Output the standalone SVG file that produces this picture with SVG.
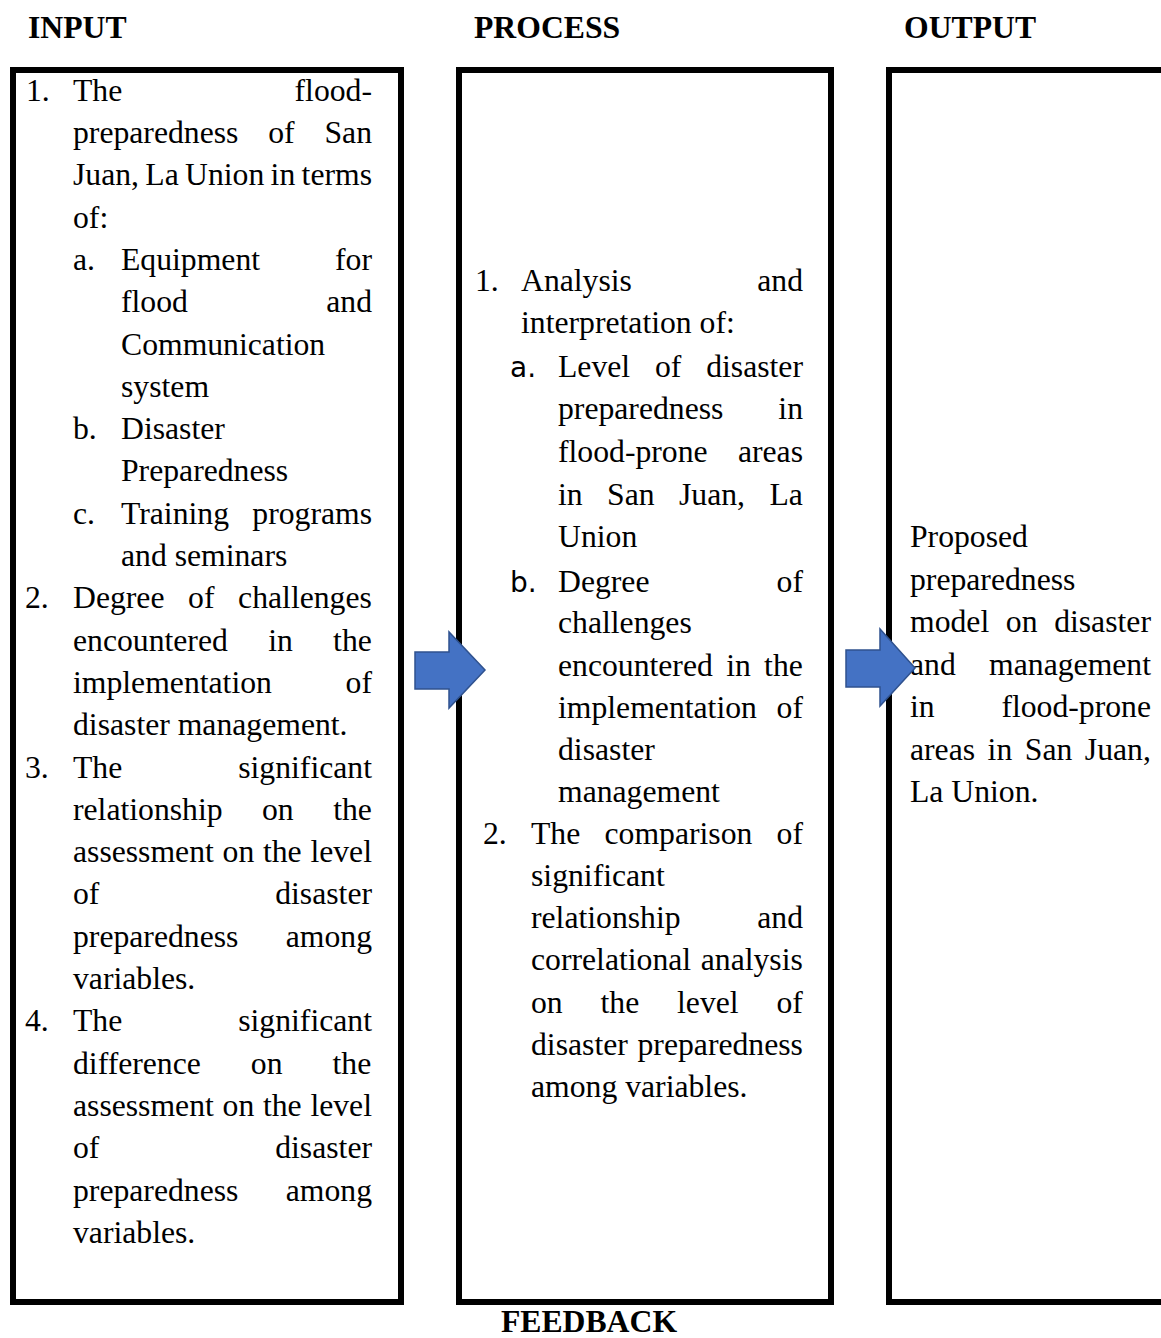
<svg xmlns="http://www.w3.org/2000/svg" width="1161" height="1338" viewBox="0 0 1161 1338">
<style>
.t{font-family:"Liberation Serif","Times New Roman",serif;font-size:31.7px;fill:#000}
.h{font-family:"Liberation Serif","Times New Roman",serif;font-size:31.7px;font-weight:bold;fill:#000}
.e{text-anchor:end}
.s{font-family:"DejaVu Sans","Noto Sans",sans-serif;font-size:28px;fill:#000}
.box{fill:#fff;stroke:#000;stroke-width:6}
.arrow{fill:#4472C4;stroke:#2F528F;stroke-width:1.5;stroke-linejoin:miter}
</style>
<rect width="1161" height="1338" fill="#fff"/>
<g id="headers">
<text class="h" x="28" y="38">INPUT</text>
<text class="h" x="474" y="38">PROCESS</text>
<text class="h" x="904" y="38">OUTPUT</text>
<text class="h" x="589" y="1332" text-anchor="middle">FEEDBACK</text>
</g>
<g id="input">
<rect class="box" x="13" y="70" width="388" height="1232"/>
<text class="t" x="26" y="100.7">1.</text>
<text class="t" x="73" y="100.7">The</text>
<text class="t e" x="372" y="100.7">flood-</text>
<text class="t" x="73" y="143" word-spacing="21.9">preparedness of San</text>
<text class="t" x="73" y="185.3" word-spacing="-1.6">Juan, La Union in terms</text>
<text class="t" x="73" y="227.6">of:</text>
<text class="t" x="73" y="269.9">a.</text>
<text class="t" x="121" y="269.9">Equipment</text>
<text class="t e" x="372" y="269.9">for</text>
<text class="t" x="121" y="312.2">flood</text>
<text class="t e" x="372" y="312.2">and</text>
<text class="t" x="121" y="354.5">Communication</text>
<text class="t" x="121" y="396.8">system</text>
<text class="t" x="73" y="439.1">b.</text>
<text class="t" x="121" y="439.1">Disaster</text>
<text class="t" x="121" y="481.4">Preparedness</text>
<text class="t" x="73" y="523.7">c.</text>
<text class="t" x="121" y="523.7">Training</text>
<text class="t e" x="372" y="523.7">programs</text>
<text class="t" x="121" y="566">and seminars</text>
<text class="t" x="25" y="608.3">2.</text>
<text class="t" x="73" y="608.3" word-spacing="15.7">Degree of challenges</text>
<text class="t" x="73" y="650.6" word-spacing="32.4">encountered in the</text>
<text class="t" x="73" y="692.9">implementation</text>
<text class="t e" x="372" y="692.9">of</text>
<text class="t" x="73" y="735.2">disaster management.</text>
<text class="t" x="25" y="777.5">3.</text>
<text class="t" x="73" y="777.5">The</text>
<text class="t e" x="372" y="777.5">significant</text>
<text class="t" x="73" y="819.8" word-spacing="31.5">relationship on the</text>
<text class="t" x="73" y="862.1" word-spacing="0.8">assessment on the level</text>
<text class="t" x="73" y="904.4">of</text>
<text class="t e" x="372" y="904.4">disaster</text>
<text class="t" x="73" y="946.7">preparedness</text>
<text class="t e" x="372" y="946.7">among</text>
<text class="t" x="73" y="989">variables.</text>
<text class="t" x="25" y="1031.3">4.</text>
<text class="t" x="73" y="1031.3">The</text>
<text class="t e" x="372" y="1031.3">significant</text>
<text class="t" x="73" y="1073.6" word-spacing="42.1">difference on the</text>
<text class="t" x="73" y="1115.9" word-spacing="0.8">assessment on the level</text>
<text class="t" x="73" y="1158.2">of</text>
<text class="t e" x="372" y="1158.2">disaster</text>
<text class="t" x="73" y="1200.5">preparedness</text>
<text class="t e" x="372" y="1200.5">among</text>
<text class="t" x="73" y="1242.8">variables.</text>
</g>
<g id="process">
<rect class="box" x="459" y="70" width="372" height="1232"/>
<text class="t" x="475" y="291">1.</text>
<text class="t" x="521" y="291">Analysis</text>
<text class="t e" x="803" y="291">and</text>
<text class="t" x="521" y="333">interpretation of:</text>
<text class="s" x="510" y="377">a.</text>
<text class="t" x="558" y="377" word-spacing="16.9">Level of disaster</text>
<text class="t" x="558" y="419">preparedness</text>
<text class="t e" x="803" y="419">in</text>
<text class="t" x="558" y="462">flood-prone</text>
<text class="t e" x="803" y="462">areas</text>
<text class="t" x="558" y="505" word-spacing="16.5">in San Juan, La</text>
<text class="t" x="558" y="547">Union</text>
<text class="s" x="510" y="592">b.</text>
<text class="t" x="558" y="592">Degree</text>
<text class="t e" x="803" y="592">of</text>
<text class="t" x="558" y="633">challenges</text>
<text class="t" x="558" y="676" word-spacing="5.4">encountered in the</text>
<text class="t" x="558" y="718">implementation</text>
<text class="t e" x="803" y="718">of</text>
<text class="t" x="558" y="760">disaster</text>
<text class="t" x="558" y="802">management</text>
<text class="t" x="483" y="844">2.</text>
<text class="t" x="531" y="844" word-spacing="16.3">The comparison of</text>
<text class="t" x="531" y="886">significant</text>
<text class="t" x="531" y="928">relationship</text>
<text class="t e" x="803" y="928">and</text>
<text class="t" x="531" y="970" word-spacing="1.7">correlational analysis</text>
<text class="t" x="531" y="1013" word-spacing="29.9">on the level of</text>
<text class="t" x="531" y="1055" word-spacing="1.8">disaster preparedness</text>
<text class="t" x="531" y="1097">among variables.</text>
</g>
<g id="output">
<rect class="box" x="889" y="70" width="300" height="1232"/>
<text class="t" x="910" y="547">Proposed</text>
<text class="t" x="910" y="589.5">preparedness</text>
<text class="t" x="910" y="632" word-spacing="8.7">model on disaster</text>
<text class="t" x="910" y="674.5">and</text>
<text class="t e" x="1151" y="674.5">management</text>
<text class="t" x="910" y="717">in</text>
<text class="t e" x="1151" y="717">flood-prone</text>
<text class="t" x="910" y="759.5" word-spacing="4.6">areas in San Juan,</text>
<text class="t" x="910" y="802">La Union.</text>
</g>
<g id="connectors">
<polygon class="arrow" points="415,652 449,652 449,632 485,670 449,708 449,689 415,689"/>
<polygon class="arrow" points="846,650 880,650 880,629 915,668 880,706 880,687 846,687"/>
</g>
</svg>
